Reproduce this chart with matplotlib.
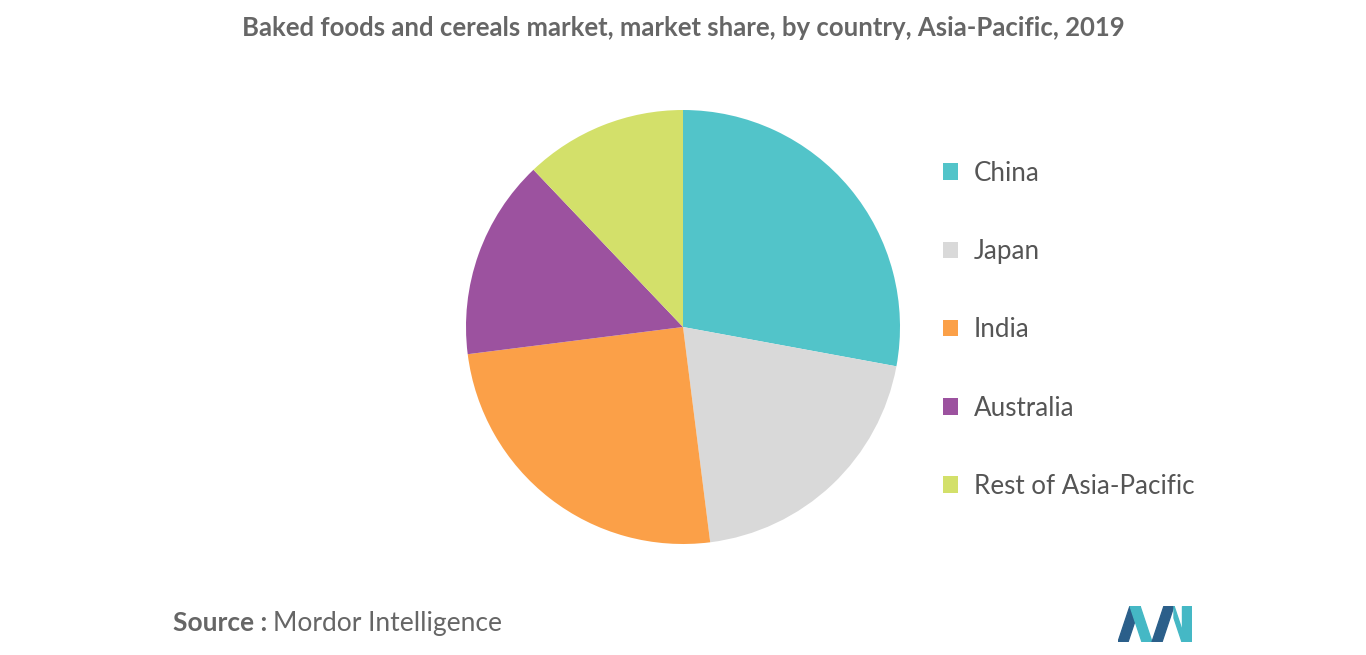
import matplotlib.pyplot as plt
from matplotlib.patches import Polygon

plt.rcParams['font.family'] = ['Lato', 'DejaVu Sans']

countries = ['China', 'Japan', 'India', 'Australia', 'Rest of Asia-Pacific']
shares = [27.9, 20.1, 25.0, 14.9, 12.1]
colors = ['#52c4c9', '#d9d9d9', '#fba048', '#9c529f', '#d3e06a']

W, H = 1366, 655
fig = plt.figure(figsize=(W / 100, H / 100), dpi=100)
fig.patch.set_facecolor('white')

cx, cy, r = 683, 327, 217
ax = fig.add_axes([(cx - r) / W, (H - cy - r) / H, 2 * r / W, 2 * r / H])
wedges, _ = ax.pie(shares, colors=colors, startangle=90, counterclock=False,
                   radius=1, wedgeprops=dict(linewidth=0))
ax.set_xlim(-1, 1)
ax.set_ylim(-1, 1)
ax.set_aspect('equal')

fig.legend(wedges, countries, loc='upper left', bbox_to_anchor=(922 / W, 1 - 140 / H),
           frameon=False, fontsize=18.7, labelcolor='#555555', handlelength=0.6,
           handleheight=0.6, handletextpad=0.6, labelspacing=2.05, borderpad=0.3)

fig.text(0.5, 1 - 28 / H, 'Baked foods and cereals market, market share, by country, Asia-Pacific, 2019',
         ha='center', va='center', fontsize=18.5, fontweight='bold', color='#666666')

src = fig.text(173 / W, 1 - 623 / H, 'Source :', ha='left', va='center', fontsize=19,
               fontweight='bold', color='#666666')
fig.canvas.draw()
bb = src.get_window_extent()
fig.text((bb.x1 + 6) / W, 1 - 623 / H, 'Mordor Intelligence', ha='left', va='center',
         fontsize=19, color='#666666')

# logo
lx = fig.add_axes([1118 / W, 1 - 642 / H, 74 / W, 36 / H])
lx.set_xlim(0, 74)
lx.set_ylim(0, 36)
lx.axis('off')
lx.add_patch(Polygon([(0, 0), (12, 36), (22, 36), (10, 0)], color='#2b5f8a'))
lx.add_patch(Polygon([(12, 36), (24, 0), (34, 0), (22, 36)], color='#45b8c5'))
lx.add_patch(Polygon([(34, 0), (46, 36), (56, 36), (44, 0)], color='#2b5f8a'))
lx.add_patch(Polygon([(56, 36), (64, 12), (64, 0), (56, 24)], color='#45b8c5'))
lx.add_patch(Polygon([(64, 0), (74, 0), (74, 36), (64, 36)], color='#45b8c5'))

fig.savefig('out.png', dpi=100)
